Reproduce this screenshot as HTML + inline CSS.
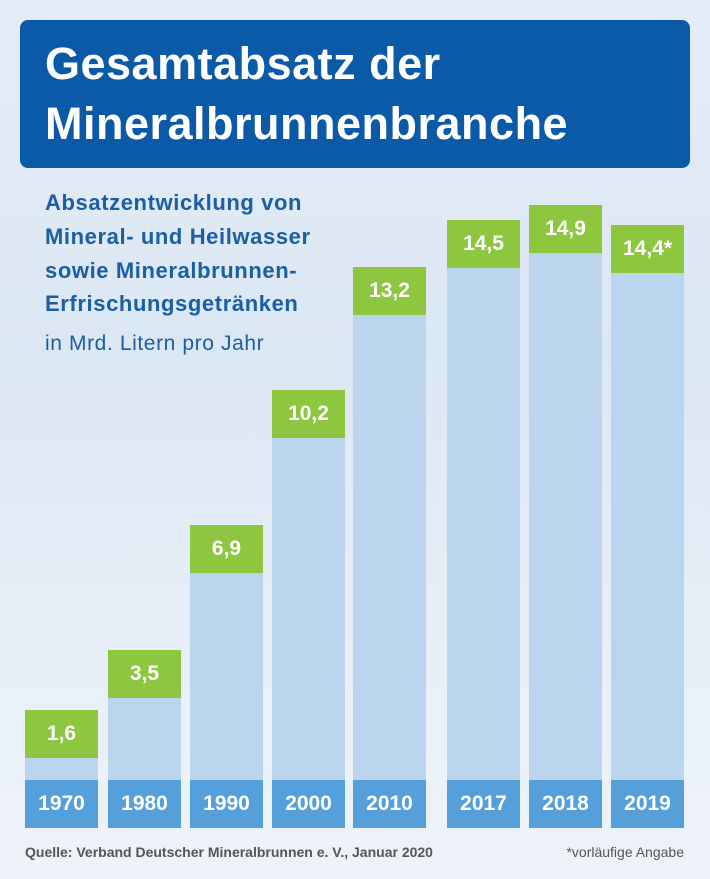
<!DOCTYPE html><html><head><style>
body{margin:0;width:710px;height:879px;overflow:hidden;font-family:"Liberation Sans",sans-serif;}
#bg{position:absolute;left:0;top:0;width:710px;height:879px;background:linear-gradient(180deg,#e4edf7 0%,#dbe7f3 40%,#e6eef7 70%,#eef3f9 100%);}
.t{position:absolute;left:20px;top:20px;width:670px;height:148px;background:#0b5aa8;border-radius:8px;}
.t div{position:absolute;left:25px;color:#fff;font-weight:bold;font-size:45px;letter-spacing:0.5px;}
.s{position:absolute;left:45px;color:#1a5ea6;font-weight:bold;font-size:22px;letter-spacing:0.6px;}
.b{position:absolute;width:73px;}
.g{background:#8dc63f;color:#fff;font-weight:bold;font-size:21px;text-align:center;line-height:48px;height:48px;}
.l{background:#bcd5ee;}
.y{position:absolute;top:780px;height:48px;width:73px;background:#55a0db;color:#fff;font-weight:bold;font-size:21px;text-align:center;line-height:48px;}
</style></head><body><div id="bg"></div>
<div class="t"><div style="top:18px">Gesamtabsatz der</div><div style="top:78px">Mineralbrunnenbranche</div></div>
<div class="s" style="top:190px">Absatzentwicklung von</div>
<div class="s" style="top:224px">Mineral- und Heilwasser</div>
<div class="s" style="top:258px">sowie Mineralbrunnen-</div>
<div class="s" style="top:291px">Erfrischungsgetränken</div>
<div class="s" style="top:332px;font-weight:normal;font-size:21px">in Mrd. Litern pro Jahr</div>

<div class="b" style="left:25px;top:710px"><div class="g">1,6</div><div class="l" style="height:22px"></div></div>
<div class="b" style="left:108px;top:650px"><div class="g">3,5</div><div class="l" style="height:82px"></div></div>
<div class="b" style="left:190px;top:525px"><div class="g">6,9</div><div class="l" style="height:207px"></div></div>
<div class="b" style="left:272px;top:390px"><div class="g">10,2</div><div class="l" style="height:342px"></div></div>
<div class="b" style="left:353px;top:267px"><div class="g">13,2</div><div class="l" style="height:465px"></div></div>
<div class="b" style="left:447px;top:220px"><div class="g">14,5</div><div class="l" style="height:512px"></div></div>
<div class="b" style="left:529px;top:205px"><div class="g">14,9</div><div class="l" style="height:527px"></div></div>
<div class="b" style="left:611px;top:225px"><div class="g">14,4*</div><div class="l" style="height:507px"></div></div>

<div class="y" style="left:25px">1970</div>
<div class="y" style="left:108px">1980</div>
<div class="y" style="left:190px">1990</div>
<div class="y" style="left:272px">2000</div>
<div class="y" style="left:353px">2010</div>
<div class="y" style="left:447px">2017</div>
<div class="y" style="left:529px">2018</div>
<div class="y" style="left:611px">2019</div>

<div style="position:absolute;left:25px;top:844px;font-size:14px;font-weight:bold;color:#555">Quelle: Verband Deutscher Mineralbrunnen e. V., Januar 2020</div>
<div style="position:absolute;right:26px;top:844px;font-size:14px;color:#555">*vorläufige Angabe</div>
</body></html>
